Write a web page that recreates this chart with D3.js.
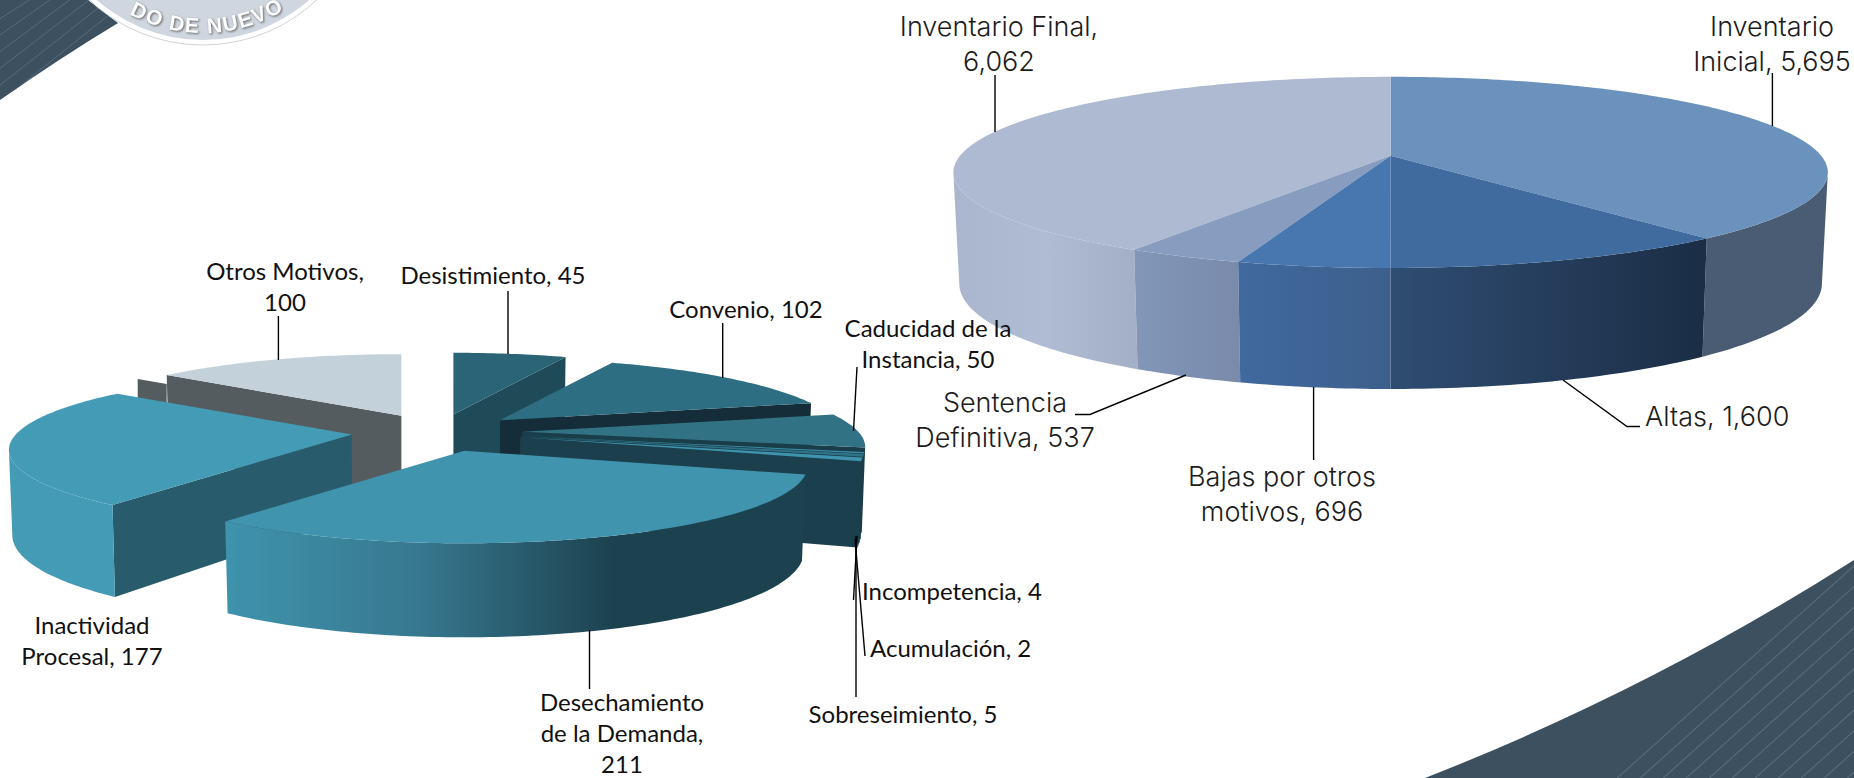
<!DOCTYPE html>
<html>
<head>
<meta charset="utf-8">
<script src="https://cdn.jsdelivr.net/npm/d3@7/dist/d3.min.js"></script>
<style>
  html, body { margin: 0; padding: 0; background: #fff; overflow: hidden; }
</style>
</head>
<body>
<div id="chart"></div>
<script>
/* globals d3 */

// right pie
const rightNames = ["Inventario Inicial", "Altas", "Bajas por otros motivos", "Sentencia Definitiva", "Inventario Final"];
const rightValues = [5695, 1600, 696, 537, 6062];

// left pie
const leftNames = ["Desistimiento", "Convenio", "Caducidad de la Instancia", "Acumulación", "Incompetencia", "Sobreseimiento", "Desechamiento de la Demanda", "Inactividad Procesal", "Otros Motivos"];
const leftValues = [45, 102, 50, 2, 4, 5, 211, 177, 100];

// colours, same order as the values
const rightTop = ["#6b92bc", "#3f6b9f", "#4877b0", "#879cbf", "#adbad2"];
const rightSide = [
  ["#4a5c74", "#4a5c74"],
  ["#2f4d72", "#1b2d45"],
  ["#40699f", "#3d5f8b"],
  ["#8297b8", "#7a8aab"],
  ["#a9b6ce", "#afbcd4", "#a3afc5"]
];
const leftTop = ["#2a6476", "#2d6e82", "#327285", "#3a8aa3", "#2f7286", "#3e93ad", "#4094ae", "#449bb6", "#c3d2da"];
const leftSide = [
  ["#1f4b58", "#1f4b58"],
  ["#142d38", "#142d38"],
  ["#1a3d4a", "#1a3d4a"],
  ["#1a3d4a", "#1a3d4a"],
  ["#1a3d4a", "#1a3d4a"],
  ["#1b3f4c", "#1b3f4c"],
  ["#3f93ad", "#37788f", "#1c4250", "#1c4250"],
  ["#449bb6", "#449bb6"],
  ["#c3d2da", "#c3d2da"]
];
const leftCut = ["#1f4b58", "#142d38", "#1a3d4a", "#1a3d4a", "#1a3d4a", "#1b3f4c", "#1c4250", "#285b6c", "#555c60"];

// where the labels sit: x, y of the first line, line breaks (word count), anchor, leader
const rightLabels = [
  {x: 1772, y: 26, breaks: [1], anchor: "middle", leader: [[1772.4, 73], [1772.4, 126]]},
  {x: 1645, y: 416, breaks: [], anchor: "start", leader: [[1563, 380], [1627, 426.5], [1640, 426.5]]},
  {x: 1282, y: 476, breaks: [3], anchor: "middle", leader: [[1313.6, 387], [1313.6, 460]]},
  {x: 1005, y: 402, breaks: [1], anchor: "middle", leader: [[1186, 375], [1090, 414.5], [1075, 414.5]]},
  {x: 999, y: 26, breaks: [2], anchor: "middle", leader: [[995, 75], [995, 132]]}
];
const leftLabels = [
  {x: 493, y: 274, breaks: [], anchor: "middle", leader: [[508, 291], [508, 354]]},
  {x: 746, y: 308, breaks: [], anchor: "middle", leader: [[722.7, 323], [722.7, 378]]},
  {x: 928, y: 327, breaks: [3], anchor: "middle", leader: [[857, 367], [853.5, 431]]},
  {x: 870, y: 647, breaks: [], anchor: "start", leader: [[855, 539], [865, 656]]},
  {x: 862, y: 590, breaks: [], anchor: "start", leader: [[857, 536], [853.5, 600]]},
  {x: 903, y: 713, breaks: [], anchor: "middle", leader: [[856, 536], [856, 697]]},
  {x: 622, y: 701, breaks: [1, 4], anchor: "middle", leader: [[589.5, 630], [589.5, 689]]},
  {x: 92, y: 624, breaks: [1], anchor: "middle", leader: []},
  {x: 285, y: 270, breaks: [2], anchor: "middle", leader: [[278.4, 316], [278.4, 360]]}
];

const width = 1854;
const height = 778;
const comma = d3.format(",");
const step = Math.PI / 180;
let gradId = 0;

const svg = d3.select("#chart").append("svg")
  .attr("width", width)
  .attr("height", height)
  .attr("viewBox", [0, 0, width, height])
  .style("display", "block");
const defs = svg.append("defs");
const lineGen = d3.line();

const sideGradient = (stops) => {
  const id = `side${gradId++}`;
  const grad = defs.append("linearGradient").attr("id", id);
  stops.forEach((c, i) => {
    grad.append("stop").attr("offset", i / (stops.length - 1)).attr("stop-color", c);
  });
  return `url(#${id})`;
};

// tilted, slightly perspective disc. v runs from back (-1) to front (1), z from top (0) to bottom (1)
const makeProject = ({cx, cy, rx, ry, persp, depth, depthFront, shrink}) => (u, v, z) => {
  const w = 1 + persp * v;
  return [
    cx + rx * u / w * (1 - z * shrink),
    cy + ry * v / w + z * (depth + depthFront * Math.max(v, 0))
  ];
};

const drawPie = (parent, values, tops, sides, cuts, opts) => {
  const project = makeProject(opts);
  const arcs = d3.pie().sort(null)(values)
    .map((d) => ({...d, mid: (d.startAngle + d.endAngle) / 2}))
    .sort((a, b) => d3.ascending(-Math.cos(a.mid), -Math.cos(b.mid)));
  const frontFrom = Math.acos(opts.persp);
  const frontTo = 2 * Math.PI - frontFrom;

  arcs.forEach((d) => {
    // the explosion moves the whole slice on screen
    const shift = project(opts.explode * Math.sin(d.mid), -opts.explode * Math.cos(d.mid), 0);
    const dx = shift[0] - opts.cx;
    const dy = shift[1] - opts.cy;
    const at = (a, r, z) => {
      const p = project(r * Math.sin(a), -r * Math.cos(a), z);
      return [p[0] + dx, p[1] + dy];
    };
    const g = parent.append("g");

    if (opts.explode > 0) {
      const cutFace = (a) => [at(a, 0, 0), at(a, 1, 0), at(a, 1, 1), at(a, 0, 1)];
      if (Math.sin(d.startAngle) < 0) {
        g.append("path").attr("d", lineGen(cutFace(d.startAngle)) + "Z").attr("fill", cuts[d.index]);
      }
      if (Math.sin(d.endAngle) > 0) {
        g.append("path").attr("d", lineGen(cutFace(d.endAngle)) + "Z").attr("fill", cuts[d.index]);
      }
    }

    // the stub of dark wall that shows left of the last slice
    if (d.index === opts.stubIndex) {
      const [sx, sy] = at(d.startAngle, 1, 0);
      const stub = [[sx, sy + 9], [sx - 29, sy + 4], [sx - 29, sy + 60], [sx, sy + 60]];
      g.append("path").attr("d", lineGen(stub) + "Z").attr("fill", cuts[d.index]);
    }

    const from = Math.max(d.startAngle, frontFrom);
    const to = Math.min(d.endAngle, frontTo);
    if (to > from) {
      const angles = d3.range(from, to, step).concat(to);
      const rim = angles.map((a) => at(a, 1, 0)).concat(angles.slice().reverse().map((a) => at(a, 1, 1)));
      g.append("path").attr("d", lineGen(rim) + "Z").attr("fill", sideGradient(sides[d.index]));
    }

    const topAngles = d3.range(d.startAngle, d.endAngle, step).concat(d.endAngle);
    const topFace = [at(0, 0, 0)].concat(topAngles.map((a) => at(a, 1, 0)));
    g.append("path").attr("d", lineGen(topFace) + "Z").attr("fill", tops[d.index]);
  });
};

const drawLabels = (parent, names, values, labels, font) => {
  labels.forEach((l, i) => {
    const words = `${names[i]}, ${comma(values[i])}`.split(" ");
    const cuts = [0, ...l.breaks, words.length];
    const text = parent.append("text")
      .attr("text-anchor", l.anchor)
      .attr("dominant-baseline", "central")
      .attr("fill", font.color)
      .style("font-family", font.family)
      .style("font-size", `${font.size}px`)
      .style("font-weight", font.weight);
    d3.pairs(cuts).forEach(([a, b], k) => {
      text.append("tspan")
        .attr("x", l.x)
        .attr("y", l.y + k * font.lead)
        .text(words.slice(a, b).join(" "));
    });
    if (l.leader.length) {
      parent.append("path")
        .attr("d", lineGen(l.leader))
        .attr("fill", "none")
        .attr("stroke", "#000")
        .attr("stroke-width", 1.4);
    }
  });
};

// page decoration
const corners = svg.append("g");
const bandFill = "#3d5060";
const stripe = "#566a7b";
defs.append("clipPath").attr("id", "clipTL").append("path")
  .attr("d", "M0,100 Q60,58 118,23 L88,0 L0,0Z");
defs.append("clipPath").attr("id", "clipBR").append("path")
  .attr("d", "M1425,778 Q1650,690 1854,560 L1854,778Z");
corners.append("path").attr("d", "M0,100 Q60,58 118,23 L88,0 L0,0Z").attr("fill", bandFill);
corners.append("path").attr("d", "M1425,778 Q1650,690 1854,560 L1854,778Z").attr("fill", bandFill);
corners.append("g").attr("clip-path", "url(#clipTL)")
  .selectAll("line").data(d3.range(0, 7)).join("line")
  .attr("x1", -10).attr("y1", (d) => 25 + d * 17)
  .attr("x2", (d) => 45 + d * 19).attr("y2", -10)
  .attr("stroke", stripe).attr("stroke-width", 1);
corners.append("g").attr("clip-path", "url(#clipBR)")
  .selectAll("line").data(d3.range(0, 12)).join("line")
  .attr("x1", (d) => 1615 + d * 23).attr("y1", 780)
  .attr("x2", (d) => 1855 + d * 23).attr("y2", 565)
  .attr("stroke", stripe).attr("stroke-width", 1.2);

// seal cut off by the top edge
const seal = svg.append("g");
seal.append("circle").attr("cx", 203).attr("cy", -121).attr("r", 166).attr("fill", "#fff").attr("stroke", "#d3d3d3");
seal.append("circle").attr("cx", 203).attr("cy", -121).attr("r", 161).attr("fill", "#cfd6df");
defs.append("path").attr("id", "sealArc").attr("d", "M49,-121 A154,154 0 0 0 357,-121");
seal.append("text")
  .attr("fill", "#fff")
  .attr("text-anchor", "middle")
  .style("font-family", "'Liberation Sans'")
  .style("font-weight", "700")
  .style("font-size", "21px")
  .style("letter-spacing", "1.5px")
  .style("filter", "drop-shadow(1px 1px 1px #666)")
  .append("textPath")
  .attr("href", "#sealArc")
  .attr("startOffset", "51%")
  .text("DO DE NUEVO");

drawPie(svg.append("g"), rightValues, rightTop, rightSide, [], {
  cx: 1390.6, cy: 155.8, rx: 430.6, ry: 92.7, persp: -0.1736,
  depth: 109, depthFront: 12, shrink: 0.0135, explode: 0
});
drawPie(svg.append("g"), leftValues, leftTop, leftSide, leftCut, {
  cx: 437, cy: 432, rx: 336, ry: 74, persp: -0.2,
  depth: 83, depthFront: 11, shrink: 0.01, explode: 0.254, stubIndex: 8
});

drawLabels(svg.append("g"), rightNames, rightValues, rightLabels, {family: "'Inter'", size: 27, weight: 300, lead: 35, color: "#1c1c1c"});
drawLabels(svg.append("g"), leftNames, leftValues, leftLabels, {family: "'Lato'", size: 24, weight: 400, lead: 31, color: "#111"});
</script>
</body>
</html>
